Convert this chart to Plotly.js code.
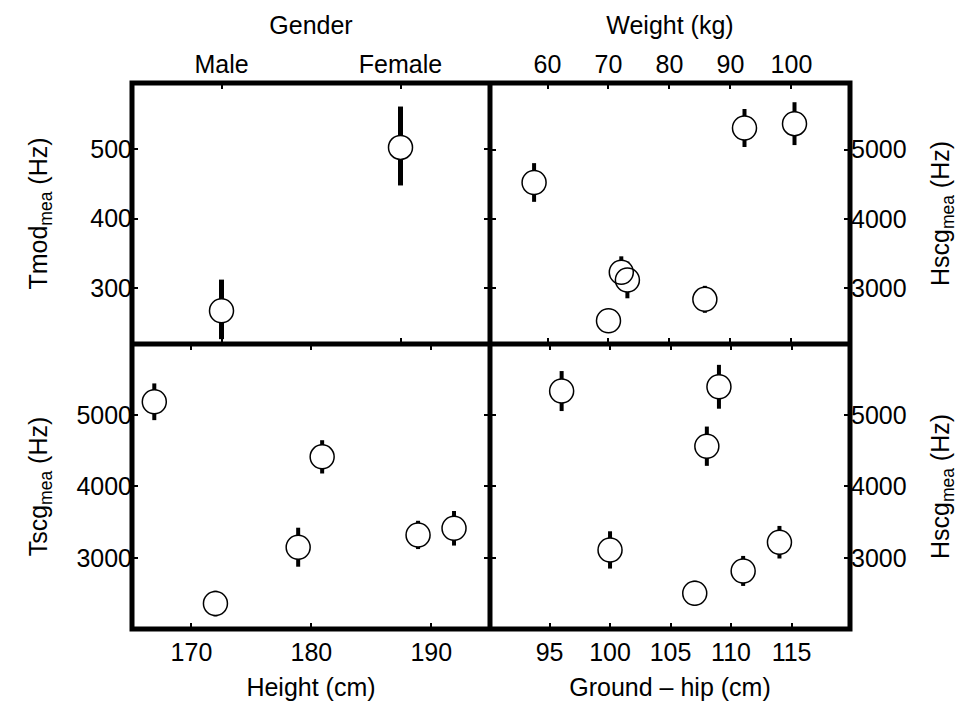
<!DOCTYPE html>
<html>
<head>
<meta charset="utf-8">
<script src="https://cdn.plot.ly/plotly-3.0.1.min.js"></script>
<style>html,body{margin:0;padding:0;background:#fff;}#chart{width:970px;height:706px;}</style>
</head>
<body>
<div id="chart"></div>
<script>
// ---- Data ----
const genderCats = ['Male', 'Female'];
const tmodMean = [267, 503];
const tmodErrPlus = [45, 59];
const tmodErrMinus = [41, 55];

const weightKg = [57.8, 72.1, 73.1, 70.0, 85.8, 92.3, 100.5];
const hscgByWeight = [4526, 3228, 3116, 2526, 2836, 5314, 5377];
const hscgByWeightErr = [280, 230, 265, 150, 195, 275, 310];

const heightCm = [166.9, 172.0, 178.9, 180.9, 188.9, 191.9];
const tscgMean = [5186, 2361, 3150, 4415, 3322, 3415];
const tscgErr = [257, 180, 273, 233, 198, 242];

const groundHipCm = [96.0, 109.0, 108.0, 100.0, 107.0, 111.0, 114.0];
const hscgByHip = [5336, 5396, 4564, 3112, 2506, 2818, 3220];
const hscgByHipErr = [280, 307, 275, 261, 175, 210, 228];

const weightTicks = [60, 70, 80, 90, 100];
const heightTicks = [170, 180, 190];
const hipTicks = [95, 100, 105, 110, 115];
const tmodTicks = [300, 400, 500];
const hzTicks = [3000, 4000, 5000];

// ---- Styles ----
const FONT = 'Liberation Sans, Arial, Helvetica, sans-serif';
const MS = 24;
function pair(x, y, errP, errM, xa, ya, thick) {
  const err = errM ? {type: 'data', symmetric: false, array: errP, arrayminus: errM, color: 'black', thickness: thick, width: 0}
                   : {type: 'data', array: errP, color: 'black', thickness: thick, width: 0};
  return [
    {x: x, y: y, xaxis: xa, yaxis: ya, type: 'scatter', mode: 'markers',
     error_y: err, marker: {symbol: 'circle', size: MS, color: 'white', line: {width: 0}},
     hoverinfo: 'x+y', showlegend: false},
    {x: x, y: y, xaxis: xa, yaxis: ya, type: 'scatter', mode: 'markers',
     marker: {symbol: 'circle-open', size: MS, color: 'black', line: {width: 1.5}},
     hoverinfo: 'skip', showlegend: false}
  ];
}

const data = [].concat(
  pair(genderCats, tmodMean, tmodErrPlus, tmodErrMinus, 'x', 'y', 5),
  pair(weightKg, hscgByWeight, hscgByWeightErr, null, 'x2', 'y2', 4),
  pair(heightCm, tscgMean, tscgErr, null, 'x3', 'y3', 4),
  pair(groundHipCm, hscgByHip, hscgByHipErr, null, 'x4', 'y4', 4)
);

const XS = 0.4986, YS = 0.522;
const base = {
  ticks: 'inside', ticklen: 6, tickwidth: 2, tickcolor: 'black', mirror: 'ticks',
  showgrid: false, zeroline: false, showline: false,
  tickfont: {family: FONT, size: 25, color: 'black'}, automargin: false, fixedrange: true
};
function ax(extra, title, standoff) {
  return Object.assign({}, base, extra, {title: {text: title, standoff: standoff, font: {family: FONT, size: 25, color: 'black'}}});
}

const layout = {
  width: 970, height: 706,
  margin: {l: 132, r: 120, t: 83, b: 77, pad: 0},
  paper_bgcolor: 'white', plot_bgcolor: 'white',
  font: {family: FONT, size: 25, color: 'black'},
  showlegend: false,
  xaxis: ax({domain: [0, XS], anchor: 'y', side: 'top', type: 'category', range: [-0.5, 1.5], ticklabelstandoff: 4}, 'Gender', 8),
  xaxis2: ax({domain: [XS, 1], anchor: 'y2', side: 'top', range: [50.57, 109.6], tickvals: weightTicks, ticklabelstandoff: 4}, 'Weight (kg)', 8),
  xaxis3: ax({domain: [0, XS], anchor: 'y3', side: 'bottom', range: [165.04, 194.9], tickvals: heightTicks, ticklabelstandoff: 6}, 'Height (cm)', 13),
  xaxis4: ax({domain: [XS, 1], anchor: 'y4', side: 'bottom', range: [90.08, 119.83], tickvals: hipTicks, ticklabelstandoff: 6}, 'Ground \u2013 hip (cm)', 13),
  yaxis: ax({domain: [YS, 1], anchor: 'x', side: 'left', range: [219, 596], tickvals: tmodTicks, ticklabelstandoff: -1}, 'Tmod<sub>mea</sub> (Hz)', 35),
  yaxis2: ax({domain: [YS, 1], anchor: 'x2', side: 'right', range: [2190, 5965], tickvals: hzTicks}, 'Hscg<sub>mea</sub> (Hz)', 25),
  yaxis3: ax({domain: [0, YS], anchor: 'x3', side: 'left', range: [2005, 5995], tickvals: hzTicks, ticklabelstandoff: -1}, 'Tscg<sub>mea</sub> (Hz)', 21),
  yaxis4: ax({domain: [0, YS], anchor: 'x4', side: 'right', range: [2005, 5995], tickvals: hzTicks}, 'Hscg<sub>mea</sub> (Hz)', 25),
  shapes: [
    {type: 'rect', xref: 'paper', yref: 'paper', x0: 0, x1: 1, y0: 0, y1: 1, line: {color: 'black', width: 5}, layer: 'above'},
    {type: 'line', xref: 'paper', yref: 'paper', x0: XS, x1: XS, y0: 0, y1: 1, line: {color: 'black', width: 5}, layer: 'above'},
    {type: 'line', xref: 'paper', yref: 'paper', x0: 0, x1: 1, y0: YS, y1: YS, line: {color: 'black', width: 5}, layer: 'above'}
  ]
};

Plotly.newPlot('chart', data, layout, {displayModeBar: false, staticPlot: true});
</script>
</body>
</html>
